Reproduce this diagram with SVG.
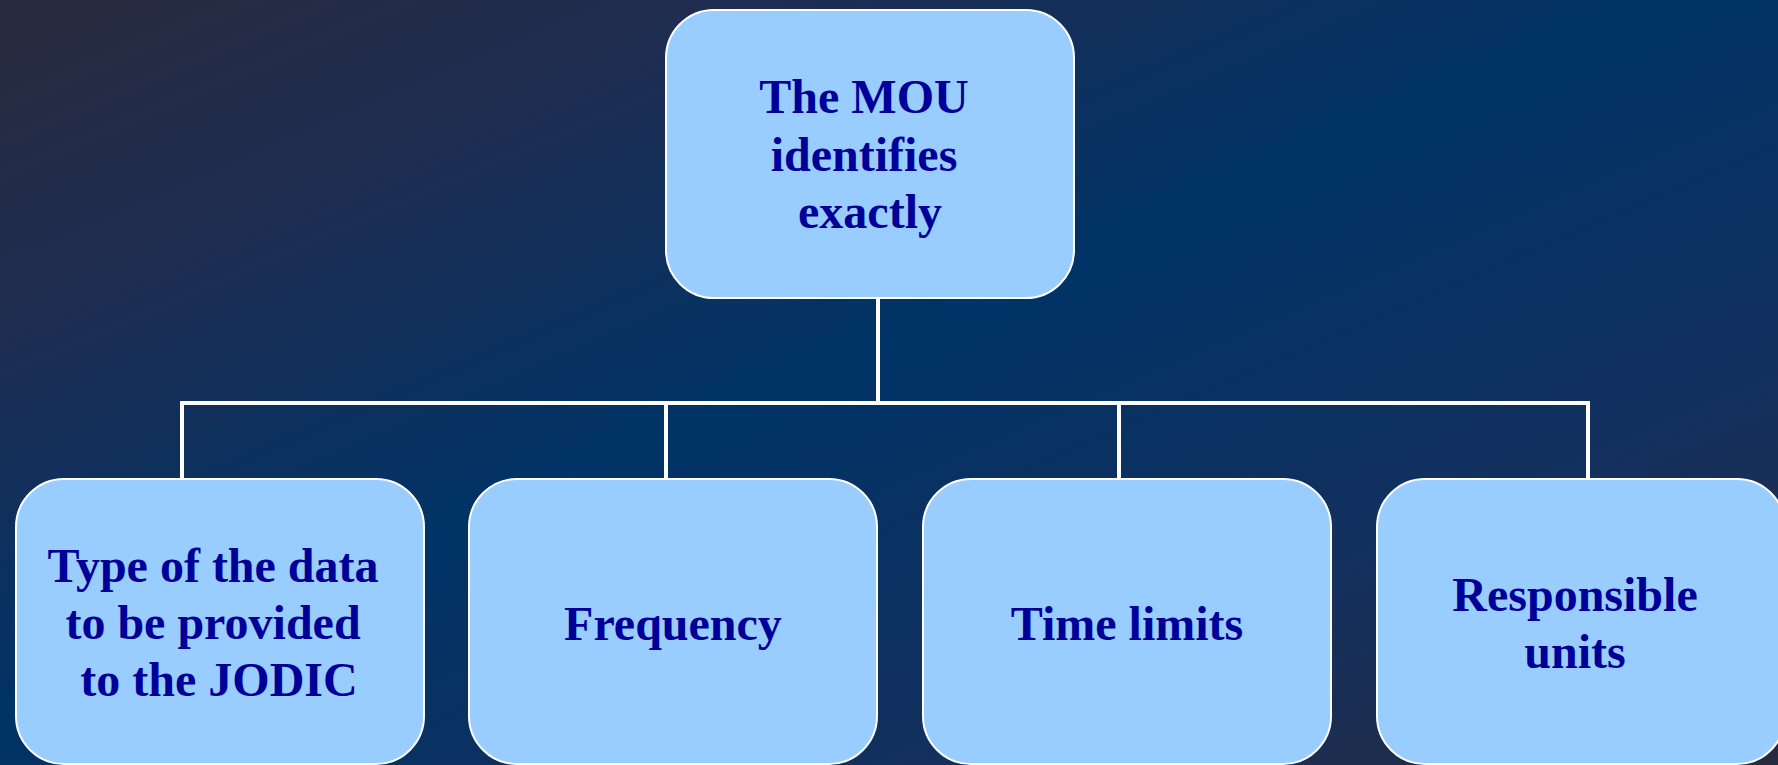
<svg xmlns="http://www.w3.org/2000/svg" width="1778" height="765" viewBox="0 0 1778 765">
  <defs>
    <linearGradient id="bg" x1="0" y1="0" x2="1" y2="1">
      <stop offset="0" stop-color="#282b3d"/>
      <stop offset="0.22" stop-color="#1e2d52"/>
      <stop offset="0.47" stop-color="#003366"/>
      <stop offset="0.75" stop-color="#13305e"/>
      <stop offset="1" stop-color="#272a3f"/>
    </linearGradient>
    <style>
      .box { fill: #99ccff; stroke: #ffffff; stroke-width: 2; }
      .lbl { font-family: "Liberation Serif", "Times New Roman", serif; font-weight: bold; font-size: 48px; fill: #000099; text-anchor: middle; }
      .conn { fill: none; stroke: #ffffff; stroke-width: 4; }
    </style>
  </defs>
  <rect x="0" y="0" width="1778" height="765" fill="url(#bg)"/>

  <g id="connectors">
    <line class="conn" x1="878" y1="298" x2="878" y2="403"/>
    <line class="conn" x1="180" y1="403" x2="1590" y2="403"/>
    <line class="conn" x1="182" y1="401" x2="182" y2="479"/>
    <line class="conn" x1="666" y1="403" x2="666" y2="479"/>
    <line class="conn" x1="1119" y1="403" x2="1119" y2="479"/>
    <line class="conn" x1="1588" y1="401" x2="1588" y2="479"/>
  </g>

  <g id="node-mou">
    <rect class="box" x="666" y="10" width="408" height="288" rx="48" ry="48"/>
    <text class="lbl" x="864" y="113">The MOU</text>
    <text class="lbl" x="864" y="171">identifies</text>
    <text class="lbl" x="870" y="228">exactly</text>
  </g>

  <g id="node-type">
    <rect class="box" x="16" y="479" width="408" height="285" rx="48" ry="48"/>
    <text class="lbl" x="213" y="582">Type of the data</text>
    <text class="lbl" x="213" y="639">to be provided</text>
    <text class="lbl" x="219" y="696">to the JODIC</text>
  </g>

  <g id="node-frequency">
    <rect class="box" x="469" y="479" width="408" height="285" rx="48" ry="48"/>
    <text class="lbl" x="673" y="640">Frequency</text>
  </g>

  <g id="node-time">
    <rect class="box" x="923" y="479" width="408" height="285" rx="48" ry="48"/>
    <text class="lbl" x="1127" y="640">Time limits</text>
  </g>

  <g id="node-responsible">
    <rect class="box" x="1377" y="479" width="408" height="285" rx="48" ry="48"/>
    <text class="lbl" x="1575" y="611">Responsible</text>
    <text class="lbl" x="1575" y="668">units</text>
  </g>
</svg>
